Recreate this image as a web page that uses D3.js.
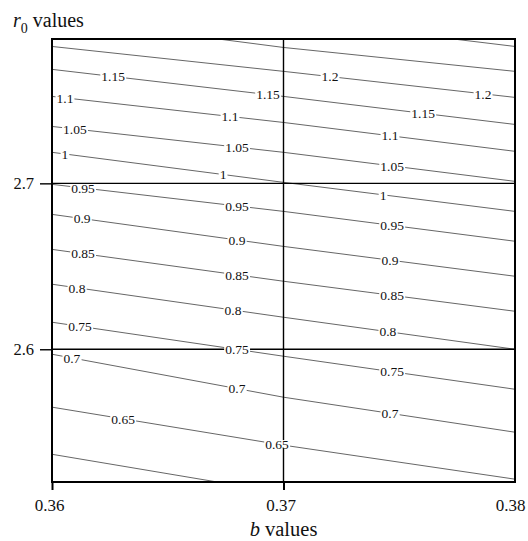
<!DOCTYPE html>
<html>
<head>
<meta charset="utf-8">
<script src="https://cdn.jsdelivr.net/npm/d3@7"></script>
<style>
  html, body { margin: 0; padding: 0; background: #fff; }
  svg { display: block; }
  svg text { font-family: "Liberation Serif", "Times New Roman", Times, serif; }
</style>
</head>
<body>
<svg id="chart" width="528" height="541"></svg>
<script>
// ---- data ----
const bDomain = [0.36, 0.38];
const r0Domain = [2.52, 2.787];
const bTicks = [0.36, 0.37, 0.38];
const r0Ticks = [2.6, 2.7];
const gridB = [0.37];
const gridR0 = [2.6, 2.7];

// contour levels and their r0 values at b = 0.36, 0.37, 0.38
const contourB = [0.36, 0.37, 0.38];
const contourLevels = [0.6, 0.65, 0.7, 0.75, 0.8, 0.85, 0.9, 0.95, 1.0, 1.05, 1.1, 1.15, 1.2, 1.25, 1.3];
const contourR0 = [
  [2.5367, 2.5133, 2.4916],  // 0.6
  [2.5651, 2.5422, 2.5217],  // 0.65
  [2.5970, 2.5711, 2.5500],  // 0.7
  [2.6163, 2.5958, 2.5759],  // 0.75
  [2.6392, 2.6193, 2.6000],  // 0.8
  [2.6602, 2.6410, 2.6229],  // 0.85
  [2.6813, 2.6620, 2.6440],  // 0.9
  [2.6994, 2.6831, 2.6651],  // 0.95
  [2.7187, 2.7006, 2.6831],  // 1
  [2.7343, 2.7187, 2.7012],  // 1.05
  [2.7524, 2.7367, 2.7193],  // 1.1
  [2.7687, 2.7524, 2.7355],  // 1.15
  [2.7825, 2.7675, 2.7518],  // 1.2
  [2.8000, 2.7819, 2.7675],  // 1.25
  [2.8157, 2.7994, 2.7825]   // 1.3
];

// inline contour labels: level and b position
const labelLevel = [1.15, 1.15, 1.15, 1.2, 1.2,
                    1.1, 1.1, 1.1, 1.05, 1.05, 1.05, 1, 1, 1,
                    0.95, 0.95, 0.95, 0.9, 0.9, 0.9, 0.85, 0.85, 0.85,
                    0.8, 0.8, 0.8, 0.75, 0.75, 0.75, 0.7, 0.7, 0.7, 0.65, 0.65];
const labelB = [0.36264, 0.36933, 0.37603, 0.37201, 0.37862,
                0.36056, 0.36769, 0.3746, 0.36099, 0.36799, 0.37469, 0.36056, 0.36739, 0.3743,
                0.36134, 0.36799, 0.37469, 0.3613, 0.36799, 0.3746, 0.36134, 0.36799, 0.37469,
                0.36108, 0.36782, 0.37451, 0.36121, 0.36799, 0.37469, 0.36086, 0.36799, 0.3746, 0.36307, 0.36972];

// ---- layout ----
const FONT = "'Liberation Serif', 'Times New Roman', Times, serif";
const svg = d3.select("#chart");
const L = 52, R = 515, T = 39, B = 482;

const x = d3.scaleLinear().domain(bDomain).range([L, R]);
const y = d3.scaleLinear().domain(r0Domain).range([B, T]);

svg.append("defs").append("clipPath").attr("id", "plotclip")
  .append("rect").attr("x", L).attr("y", T).attr("width", R - L).attr("height", B - T);

const plot = svg.append("g").attr("clip-path", "url(#plotclip)");

// contour lines
const line = d3.line().x(d => x(d[0])).y(d => y(d[1]));
contourLevels.forEach((lev, i) => {
  const pts = contourB.map((b, j) => [b, contourR0[i][j]]);
  plot.append("path")
    .attr("d", line(pts))
    .attr("fill", "none")
    .attr("stroke", "#555")
    .attr("stroke-width", 0.9);
});

// grid lines
gridB.forEach(b => {
  svg.append("line").attr("x1", x(b)).attr("x2", x(b)).attr("y1", T).attr("y2", B)
    .attr("stroke", "#000").attr("stroke-width", 1.4);
});
gridR0.forEach(r => {
  svg.append("line").attr("x1", L).attr("x2", R).attr("y1", y(r)).attr("y2", y(r))
    .attr("stroke", "#000").attr("stroke-width", 1.4);
});

// labels on contours
const fmt = v => String(+v.toFixed(2));
const labG = svg.append("g");
labelLevel.forEach((lev, k) => {
  const i = contourLevels.findIndex(l => Math.abs(l - lev) < 1e-9);
  const interp = d3.scaleLinear().domain(contourB).range(contourR0[i]);
  const b = labelB[k];
  const px = x(b), py = y(interp(b));
  const g = labG.append("g").attr("transform", `translate(${px},${py})`);
  const t = g.append("text")
    .attr("text-anchor", "middle")
    .attr("dy", "0.35em")
    .attr("font-size", 13.5)
    .attr("font-family", FONT)
    .attr("fill", "#111")
    .text(fmt(lev));
  const bb = t.node().getBBox();
  g.insert("rect", "text")
    .attr("x", bb.x - 1).attr("y", -4).attr("width", bb.width + 2).attr("height", 8)
    .attr("fill", "#fff");
});

// frame
svg.append("rect").attr("x", L).attr("y", T).attr("width", R - L).attr("height", B - T)
  .attr("fill", "none").attr("stroke", "#000").attr("stroke-width", 2);

// axes
const xAxis = d3.axisBottom(x).tickValues(bTicks).tickSize(8).tickPadding(9)
  .tickFormat(d => fmt(d));
const gx = svg.append("g").attr("transform", `translate(0,${B})`).call(xAxis)
  .attr("font-family", FONT);
gx.select(".domain").remove();
gx.selectAll("line").attr("stroke", "#000").attr("stroke-width", 2);
gx.selectAll("text").attr("font-size", 17).attr("fill", "#111").attr("font-family", FONT).attr("dx", -3);
// last label sits slightly inside the right edge, as in the reference
gx.selectAll(".tick").filter(d => d === bTicks[bTicks.length - 1]).select("text").attr("dx", -5);
gx.selectAll(".tick").filter(d => d === bTicks[bTicks.length - 1]).select("line").remove();

const yAxis = d3.axisLeft(y).tickValues(r0Ticks).tickSize(12).tickPadding(6)
  .tickFormat(d => fmt(d));
const gy = svg.append("g").attr("transform", `translate(${L},0)`).call(yAxis)
  .attr("font-family", FONT);
gy.select(".domain").remove();
gy.selectAll("line").attr("stroke", "#000").attr("stroke-width", 1.4);
gy.selectAll("text").attr("font-size", 16.5).attr("fill", "#111").attr("font-family", FONT);

// axis titles
const yt = svg.append("text").attr("x", 13).attr("y", 27).attr("font-size", 20)
  .attr("font-family", FONT).attr("fill", "#111");
yt.append("tspan").attr("font-style", "italic").text("r");
yt.append("tspan").attr("font-size", 14).attr("dy", 6).text("0");
yt.append("tspan").attr("dy", -6).text(" values");

const xt = svg.append("text").attr("x", x(0.37)).attr("y", 536).attr("text-anchor", "middle")
  .attr("font-size", 20.5).attr("font-family", FONT).attr("fill", "#111");
xt.append("tspan").attr("font-style", "italic").text("b");
xt.append("tspan").text(" values");
</script>
</body>
</html>
